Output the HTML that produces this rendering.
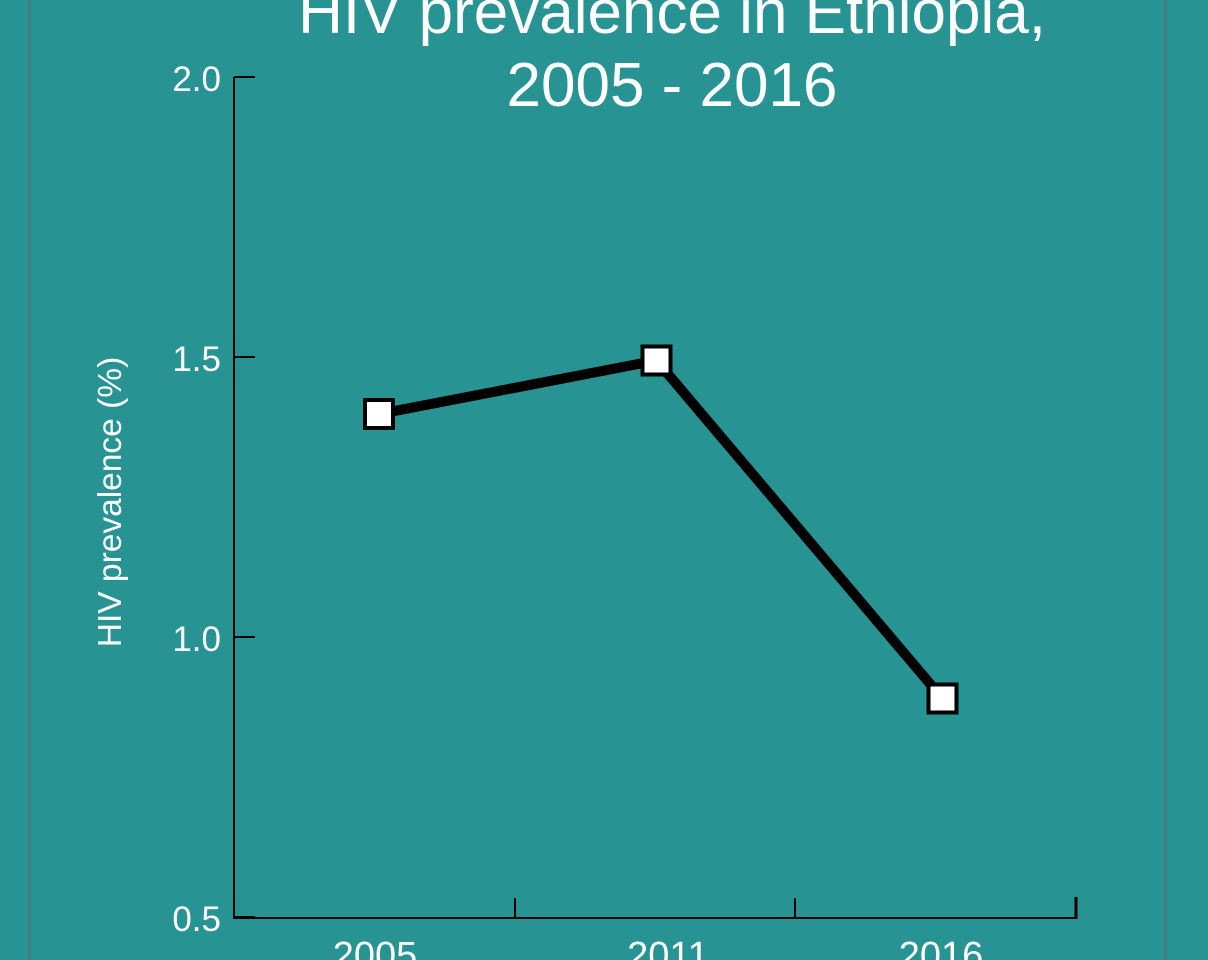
<!DOCTYPE html>
<html>
<head>
<meta charset="utf-8">
<style>
html,body{margin:0;padding:0;}
body{width:1208px;height:960px;overflow:hidden;background:#279393;}
svg{display:block;}
text{font-family:"Liberation Sans",sans-serif;fill:#ffffff;}
</style>
</head>
<body>
<svg width="1208" height="960" viewBox="0 0 1208 960" xmlns="http://www.w3.org/2000/svg">
<rect x="0" y="0" width="1208" height="960" fill="#279393"/>
<line x1="29.5" y1="0" x2="29.5" y2="960" stroke="#666666" stroke-width="1.5"/>
<line x1="1165.5" y1="0" x2="1165.5" y2="960" stroke="#666666" stroke-width="1.5"/>

<!-- title -->
<text x="672" y="33" font-size="62" text-anchor="middle">HIV prevalence in Ethiopia,</text>
<text x="672" y="106" font-size="62" text-anchor="middle">2005 - 2016</text>

<!-- axes -->
<line x1="234" y1="77" x2="234" y2="918" stroke="#000" stroke-width="2"/>
<line x1="233" y1="918" x2="1077" y2="918" stroke="#000" stroke-width="2"/>
<!-- y ticks -->
<line x1="234" y1="77" x2="255" y2="77" stroke="#000" stroke-width="2"/>
<line x1="234" y1="357" x2="255" y2="357" stroke="#000" stroke-width="2"/>
<line x1="234" y1="637" x2="255" y2="637" stroke="#000" stroke-width="2"/>
<line x1="234" y1="917" x2="255" y2="917" stroke="#000" stroke-width="2"/>
<!-- x ticks -->
<line x1="515" y1="898" x2="515" y2="918" stroke="#000" stroke-width="2"/>
<line x1="795" y1="898" x2="795" y2="918" stroke="#000" stroke-width="2"/>
<line x1="1076" y1="897" x2="1076" y2="919" stroke="#000" stroke-width="3"/>

<!-- y tick labels -->
<text x="221" y="91" font-size="35" text-anchor="end">2.0</text>
<text x="221" y="371" font-size="35" text-anchor="end">1.5</text>
<text x="221" y="651" font-size="35" text-anchor="end">1.0</text>
<text x="221" y="931" font-size="35" text-anchor="end">0.5</text>

<!-- y axis label -->
<text transform="translate(121,502) rotate(-90)" font-size="33.5" text-anchor="middle">HIV prevalence (%)</text>

<!-- x tick labels -->
<text x="375" y="968" font-size="38" text-anchor="middle">2005</text>
<text x="668" y="968" font-size="38" text-anchor="middle">2011</text>
<text x="941" y="968" font-size="38" text-anchor="middle">2016</text>

<!-- series -->
<polyline points="379,414 656.5,360.5 942.5,698.5" fill="none" stroke="#000" stroke-width="10" stroke-linejoin="miter"/>
<rect x="365" y="400" width="28" height="28" fill="#fff" stroke="#000" stroke-width="4"/>
<rect x="642.5" y="346.5" width="28" height="28" fill="#fff" stroke="#000" stroke-width="4"/>
<rect x="928.5" y="684.5" width="28" height="28" fill="#fff" stroke="#000" stroke-width="4"/>
</svg>
</body>
</html>
